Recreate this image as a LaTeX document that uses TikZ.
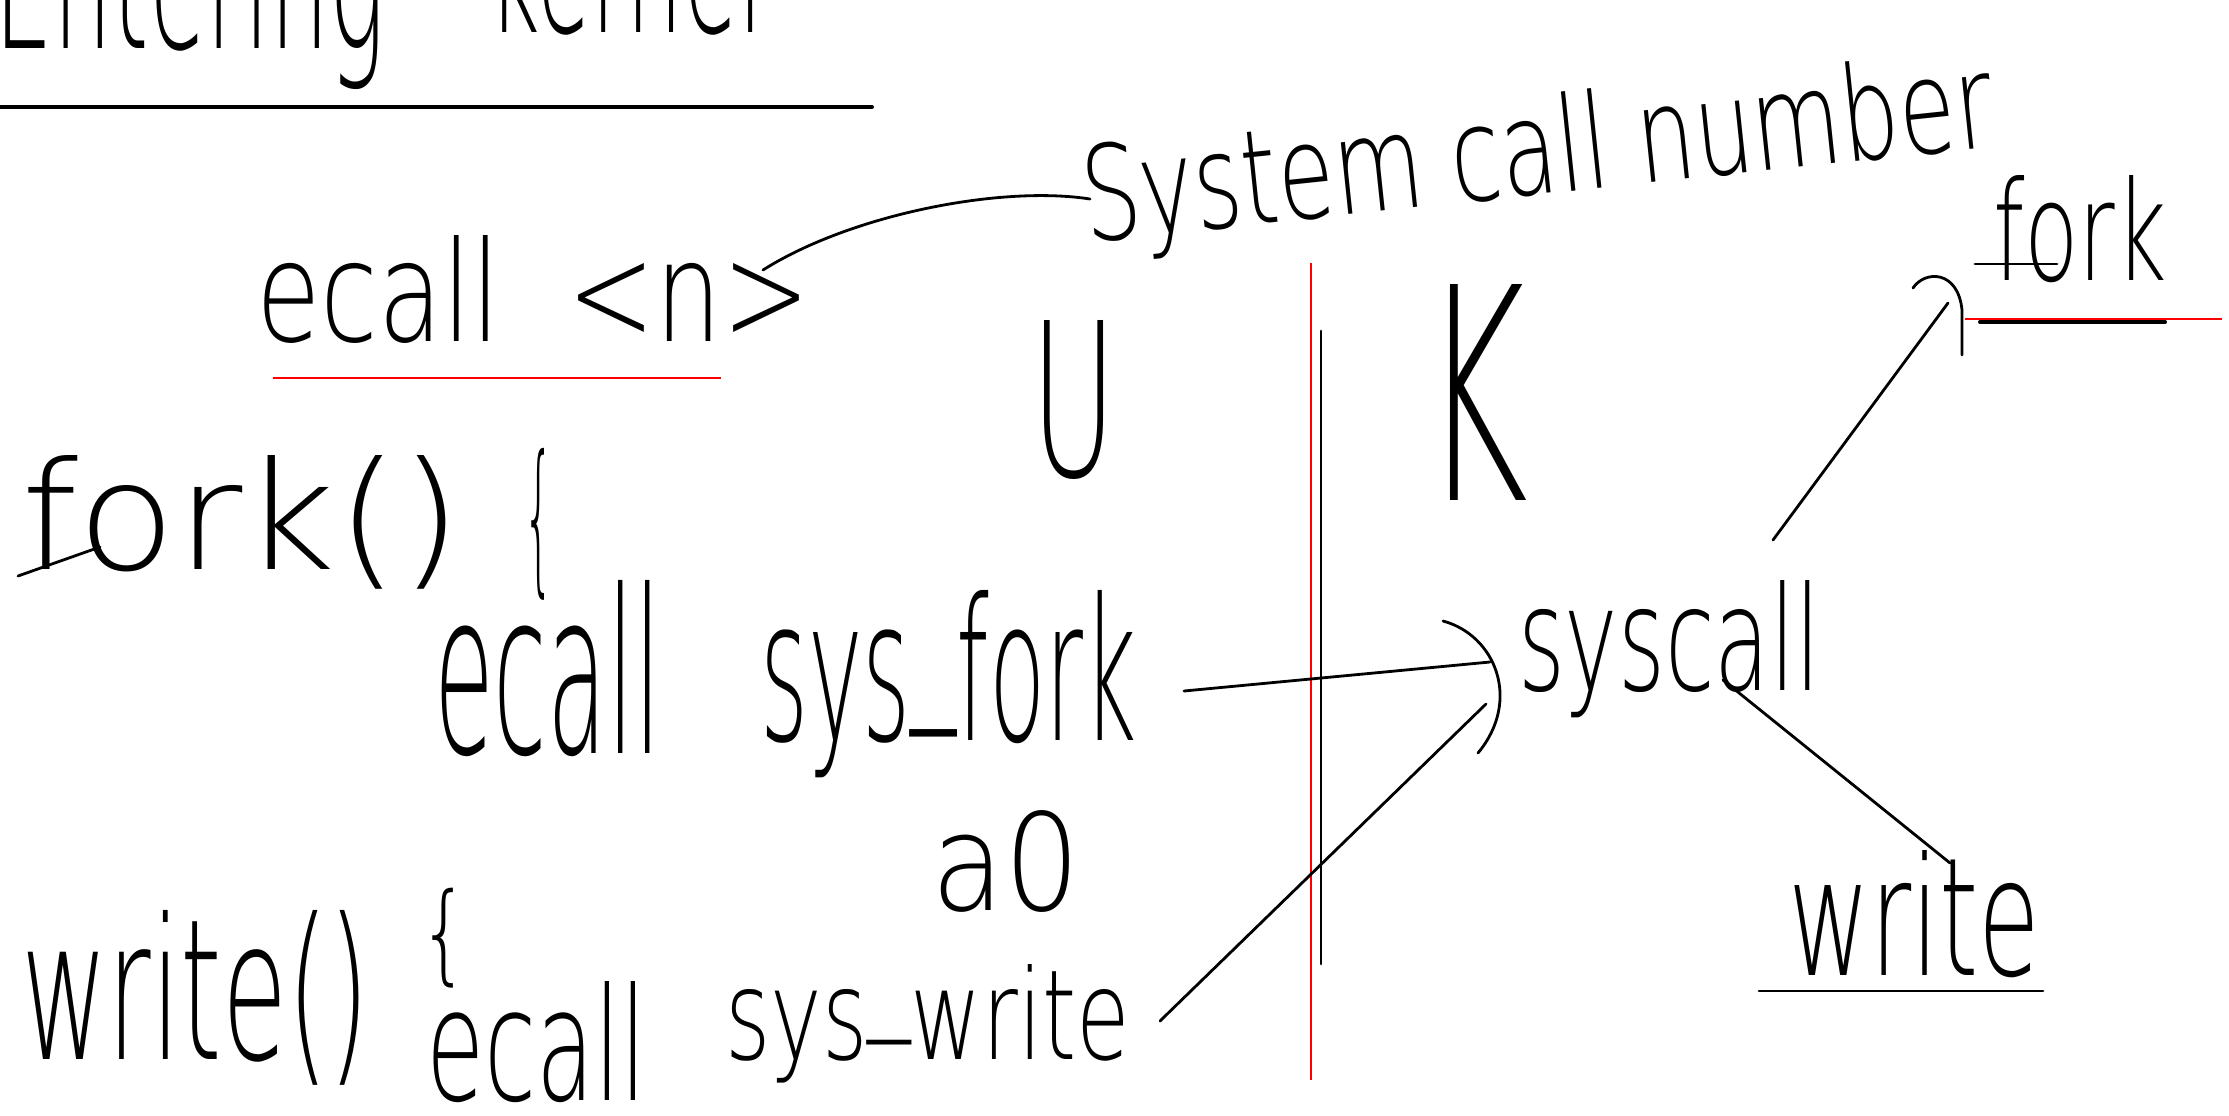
\documentclass[tikz,border=0pt]{standalone}
\usepackage{fontspec}
\usepackage{graphicx}
% thin pen-like face for the handwritten labels
\IfFontExistsTF{DejaVu Sans ExtraLight}
  {\newfontfamily\hand{DejaVu Sans ExtraLight}}
  {\IfFontExistsTF{DejaVu Sans Light}
    {\newfontfamily\hand{DejaVu Sans Light}}
    {\newfontfamily\hand{Fira Sans}}}
\newdimen\px \px=0.5pt
% fit a label to a given width and height above its baseline
\newcommand\hw[3]{\resizebox{#1\px}{#2\px}{\hand #3}}
% fit a label to a given width and total height
\newcommand\hwt[3]{\resizebox*{#1\px}{#2\px}{\hand #3}}
% underscore written at pen height
\newcommand\us[1]{\raisebox{#1}{\_}}

\tikzset{
  ink/.style={line width=1.4pt, line cap=round, line join=round},
  redink/.style={line width=1.3pt, draw=red},
  hwtext/.style={inner sep=0pt, outer sep=0pt, anchor=base west},
  brace/.style={inner sep=0pt, outer sep=0pt, anchor=north west}
}

\begin{document}
\begin{tikzpicture}[x=0.5pt, y=-0.5pt]
\useasboundingbox (0,0) rectangle (2229,1115);
\fill[white] (0,0) rectangle (2229,1115);
\clip (0,0) rectangle (2229,1115);

% heading
\node[hwtext] (enter) at (-5,48) {\hw{390}{150}{Entering}};
\node[hwtext] (kern) at (488,32) {\hw{275}{150}{kernel}};
\coordinate (headL) at (0,107);
\coordinate (headR) at (872,107);
\draw[ink, line width=2pt] (headL) -- (headR);

% ecall <n>
\node[hwtext] (ecalln) at (256,341) {\hw{554}{106}{ecall\ \ \textless n\textgreater}};
\coordinate (ulA) at (273,378);
\coordinate (ulB) at (721,378);
\draw[redink] (ulA) -- (ulB);

% system call number
\node[hwtext, rotate=6] (scn) at (1087,242) {\hw{915}{100}{System call number}};
\coordinate (nTail) at (763,270);
\coordinate (sysHead) at (1090,199);
\draw[ink] (nTail) .. controls (850,215) and (1000,185) .. (sysHead);

% user / kernel boundary
\node[hwtext] (U) at (1031,476) {\hw{85}{156}{U}};
\node[hwtext] (K) at (1422,500) {\hw{106}{216}{K}};
\coordinate (redTop) at (1311,263);
\coordinate (redBot) at (1311,1080);
\coordinate (blkTop) at (1321,331);
\coordinate (blkBot) at (1321,964);
\draw[redink] (redTop) -- (redBot);
\draw[ink] (blkTop) -- (blkBot);

% fork() {
\node[hwtext] (forkfn) at (21,569) {\hw{441}{114}{fork()}};
\node[brace] (forkbr) at (523,448) {\hwt{31}{152}{\{}};
\coordinate (fbarA) at (18,576);
\coordinate (fbarB) at (100,547);
\draw[ink] (fbarA) -- (fbarB);

% ecall sys_fork
\node[hwtext] (ecallF) at (434,753) {\hw{227}{173}{ecall}};
\node[hwtext] (sysfork) at (760,740) {\hw{377}{150}{sys\us{0.25em}fork}};
\node[hwtext] (a0) at (931,910) {\hw{149}{100}{a0}};

% write() {
\node[hwtext] (writefn) at (21,1059) {\hw{349}{149}{write()}};
\node[brace] (writebr) at (419,888) {\hwt{50}{100}{\{}};

% ecall sys_write
\node[hwtext] (ecallW) at (426,1100) {\hw{221}{119}{ecall}};
\node[hwtext] (syswrite) at (725,1059) {\hw{405}{95}{sys\us{0.35em}write}};

% dispatcher
\draw[ink] (1443,621) .. controls (1495,635) and (1522,700) .. (1478,753);
\node[hwtext] (syscall) at (1518,690) {\hw{302}{110}{syscall}};

\coordinate (forkOut) at (1184,691);
\coordinate (scIn1) at (1490,662);
\coordinate (writeOut) at (1160,1021);
\coordinate (scIn2) at (1486,704);
\draw[ink] (forkOut) -- (scIn1);
\draw[ink] (writeOut) -- (scIn2);

% kernel handlers
\coordinate (scUp) at (1773,540);
\coordinate (forkIn) at (1948,303);
\coordinate (scDown) at (1723,680);
\coordinate (writeIn) at (1950,863);
\draw[ink] (scUp) -- (forkIn);
\draw[ink] (scDown) -- (writeIn);

\draw[ink] (1913,288) .. controls (1925,270) and (1958,270) .. (1962,310) -- (1962,355);
\node[hwtext] (kfork) at (1993,280) {\hw{174}{105}{fork}};
\coordinate (kfA) at (1975,264);
\coordinate (kfB) at (2057,264);
\draw[ink] (kfA) -- (kfB);
\coordinate (kfRedA) at (1965,319);
\coordinate (kfRedB) at (2222,319);
\coordinate (kfBlkA) at (1980,322);
\coordinate (kfBlkB) at (2165,322);
\draw[redink] (kfRedA) -- (kfRedB);
\draw[ink, line width=2pt] (kfBlkA) -- (kfBlkB);

\node[hwtext] (kwrite) at (1788,975) {\hw{252}{125}{write}};
\coordinate (kwA) at (1759,991);
\coordinate (kwB) at (2043,991);
\draw[ink] (kwA) -- (kwB);
\end{tikzpicture}
\end{document}
